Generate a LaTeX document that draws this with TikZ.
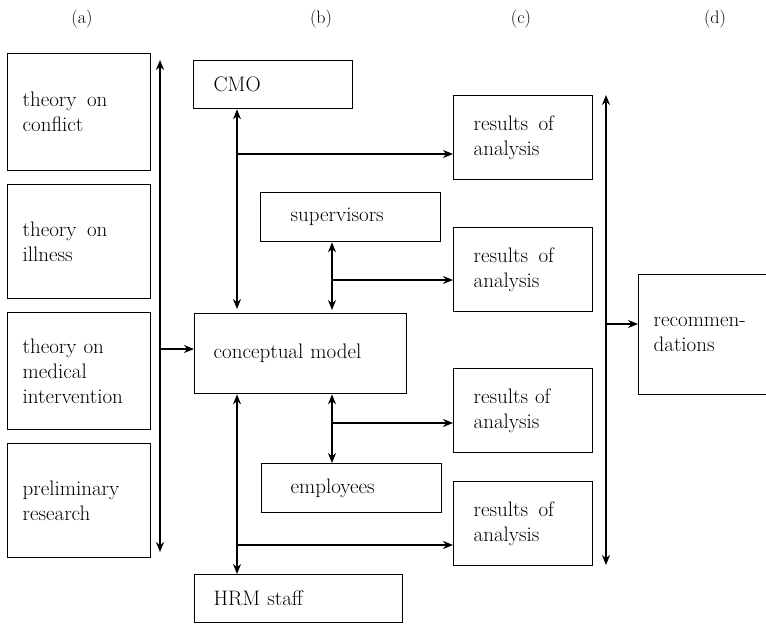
\documentclass[tikz,border=0pt]{standalone}
\usetikzlibrary{arrows.meta}
\begin{document}
\begin{tikzpicture}[x=1pt,y=-1pt,
  box/.style={draw, line width=1.3pt, anchor=north west, align=left,
    inner ysep=0pt, font=\fontsize{21}{25}\selectfont},
  colA/.style={box, inner xsep=15pt, text width=113pt, minimum height=#1},
  res/.style={box, inner xsep=20pt, text width=99pt, minimum height=84pt},
  tip/.style={Stealth[length=10pt,width=8pt]},
  conn/.style={line width=1.2pt, -{Stealth[length=10pt,width=8pt]}},
  bconn/.style={line width=1.3pt, {Stealth[length=10pt,width=8pt]}-{Stealth[length=10pt,width=8pt]}},
  heading/.style={font=\fontsize{18}{20}\selectfont}]
\clip (0,0) rectangle (766,624);

% column headings
\node[heading] (ha) at (82,19) {(a)};
\node[heading] (hb) at (321,19) {(b)};
\node[heading] (hc) at (521,19) {(c)};
\node[heading] (hd) at (715,19) {(d)};

% (a) theories and research
\node[colA=117pt] (a1) at (7,53) {theory\hspace{0.5em}on\\conflict};
\node[colA=114pt] (a2) at (7,184) {theory\hspace{0.5em}on\\illness};
\node[colA=117pt] (a3) at (7,312) {theory on\\medical\\intervention};
\node[colA=114pt] (a4) at (7,443) {preliminary\\research};

% (b) model and stakeholders
\node[box, inner xsep=20pt, text width=119pt, minimum height=48pt] (cmo) at (193,60) {CMO};
\node[box, inner xsep=30pt, text width=120pt, minimum height=49pt] (sup) at (260,192) {supervisors};
\node[box, inner xsep=19pt, text width=174pt, minimum height=80pt] (cm) at (194,313) {conceptual model};
\node[box, inner xsep=29pt, text width=122pt, minimum height=49pt] (emp) at (261,463) {employees};
\node[box, inner xsep=19pt, text width=170pt, minimum height=48pt] (hrm) at (194,574) {HRM staff};

% (c) results
\node[res] (r1) at (453,95) {results\hspace{0.5em}of\\analysis};
\node[res] (r2) at (453,227) {results\hspace{0.5em}of\\analysis};
\node[res] (r3) at (453,368) {results of\\analysis};
\node[res] (r4) at (453,481) {results\hspace{0.5em}of\\analysis};

% (d) recommendations (box runs off the right edge)
\node[box, inner xsep=15pt, text width=110pt, minimum height=120pt] (rec) at (638,274) {recommen-\\dations};

% (a) -> (b)
\coordinate (aTop) at (160,60);
\coordinate (aBot) at (160,552);
\coordinate (aMid) at (160,349);
\draw[bconn] (aTop) -- (aBot);
\draw[conn] (aMid) -- (aMid -| cm.west);

% CMO <-> conceptual model, branch to results
\coordinate (xL) at (237,0);
\coordinate (xR) at (332,0);
\draw[bconn, shorten >=4pt] (xL |- cmo.south) -- (xL |- cm.north);
\coordinate (b1) at (237,154);
\draw[conn] (b1) -- (b1 -| r1.west);

% supervisors <-> conceptual model
\draw[bconn, shorten >=3pt] (xR |- sup.south) -- (xR |- cm.north);
\coordinate (b2) at (332,280);
\draw[conn] (b2) -- (b2 -| r2.west);

% conceptual model <-> employees
\draw[bconn] (xR |- cm.south) -- (xR |- emp.north);
\coordinate (b3) at (332,423);
\draw[conn] (b3) -- (b3 -| r3.west);

% conceptual model <-> HRM staff
\draw[bconn] (xL |- cm.south) -- (xL |- hrm.north);
\coordinate (b4) at (237,545);
\draw[conn] (b4) -- (b4 -| r4.west);

% (c) -> (d)
\coordinate (cTop) at (606,95);
\coordinate (cBot) at (606,565);
\coordinate (cMid) at (606,324);
\draw[bconn] (cTop) -- (cBot);
\draw[conn] (cMid) -- (cMid -| rec.west);
\end{tikzpicture}
\end{document}
